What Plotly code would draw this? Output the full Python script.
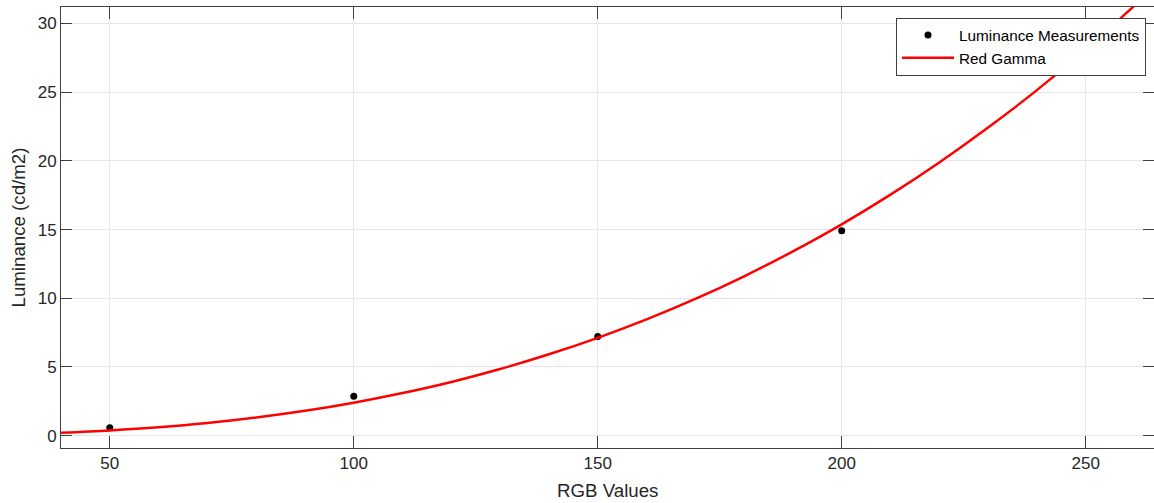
import plotly.graph_objects as go

rgb_meas = [50, 100, 150, 200]
lum_meas = [0.58, 2.86, 7.22, 14.92]

# Red gamma curve
rgb_curve = [40, 50, 60, 70, 80, 90, 100, 110, 120, 130, 140, 150, 160, 170, 180, 190,
             200, 210, 220, 230, 240, 250, 260, 265]
lum_curve = [0.21, 0.38, 0.61, 0.92, 1.32, 1.81, 2.40, 3.10, 3.91, 4.85, 5.92, 7.12,
             8.46, 9.95, 11.60, 13.41, 15.38, 17.54, 19.88, 22.42, 25.15, 28.10, 31.30, 32.95]

xticks = [50, 100, 150, 200, 250]
yticks = [0, 5, 10, 15, 20, 25, 30]

FONT = "Liberation Sans, Arial, Helvetica, sans-serif"
AX = "#404040"
TXT = "#262626"
GRID = "#e6e6e6"

W, H = 1154, 503
ML, MR, MT, MB = 61, 0, 7, 55
PW = W - ML - MR
PH = H - MT - MB

fig = go.Figure()
fig.add_trace(go.Scatter(
    x=rgb_meas, y=lum_meas, mode="markers", name="Luminance Measurements",
    marker=dict(color="black", size=7),
))
fig.add_trace(go.Scatter(
    x=rgb_curve, y=lum_curve, mode="lines", name="Red Gamma",
    line=dict(color="#ff0000", width=2.5, shape="spline"),
))

fig.update_layout(
    width=W, height=H,
    margin=dict(l=ML, r=MR, t=MT, b=MB, autoexpand=False),
    paper_bgcolor="white", plot_bgcolor="white",
    font=dict(family=FONT, color=TXT, size=17),
    showlegend=True,
    legend=dict(
        x=(1146 - ML) / PW, y=(H - MB - 17.5) / PH, xanchor="right", yanchor="top",
        bgcolor="white", bordercolor="#404040", borderwidth=1,
        font=dict(family=FONT, size=15.3, color="black"),
        tracegroupgap=0, itemwidth=52,
    ),
    annotations=[
        dict(text="RGB Values", xref="paper", yref="paper",
             x=0.5, y=(H - MB - 490) / PH, xanchor="center", yanchor="middle",
             showarrow=False, font=dict(size=18.7, color=TXT, family=FONT)),
        dict(text="Luminance (cd/m2)", xref="paper", yref="paper",
             x=(18 - ML) / PW, y=0.5, xanchor="center", yanchor="middle",
             textangle=-90, showarrow=False, font=dict(size=18.7, color=TXT, family=FONT)),
    ],
)
fig.update_xaxes(
    range=[40, 264], tickvals=xticks, ticks="inside", ticklen=12, tickcolor=AX,
    showline=True, linecolor=AX, linewidth=1, mirror="ticks", automargin=False,
    showgrid=True, gridcolor=GRID, gridwidth=1, zeroline=False,
    tickfont=dict(size=17, color=TXT),
)
fig.update_yaxes(
    range=[-0.9, 31.2], tickvals=yticks, ticks="inside", ticklen=11, tickcolor=AX,
    showline=True, linecolor=AX, linewidth=1, mirror="ticks", automargin=False,
    showgrid=True, gridcolor=GRID, gridwidth=1, zeroline=False,
    tickfont=dict(size=17, color=TXT),
)

fig.write_html("out.html", config={"displayModeBar": False},
               post_script="document.body.style.margin='0';")
